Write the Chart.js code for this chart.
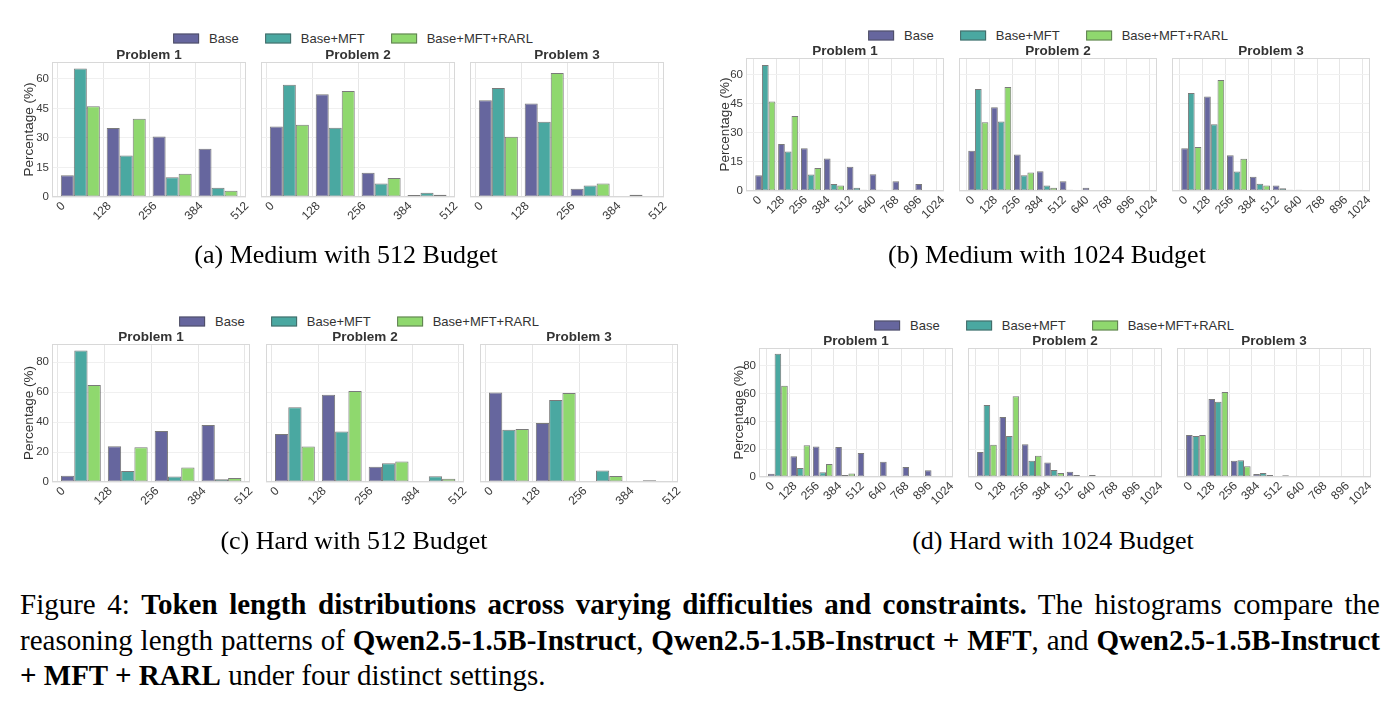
<!DOCTYPE html>
<html>
<head>
<meta charset="utf-8">
<script src="https://cdn.jsdelivr.net/npm/chart.js@4.4.1/dist/chart.umd.min.js"></script>
<style>
  body { margin: 0; width: 1400px; height: 708px; background: #fff; position: relative; overflow: hidden;
         font-family: "Liberation Sans", Arial, sans-serif; }
  .panel { position: absolute; }
  .legend { position: absolute; display: flex; align-items: center; transform: translate(-50%, -50%);
            font-size: 13px; color: #333; white-space: nowrap; }
  .legend .sw { width: 24px; height: 8px; border: 1px solid rgba(60, 60, 60, 0.6); margin-right: 10px; }
  .legend .it { display: flex; align-items: center; margin-right: 26px; }
  .legend .it:last-child { margin-right: 0; }
  .sub { position: absolute; transform: translate(-50%, -50%); white-space: nowrap;
         font-family: "Liberation Serif", "Times New Roman", serif; font-size: 26px; color: #000; }
  .cap { position: absolute; left: 20px; top: 587px; width: 1360px;
         font-family: "Liberation Serif", "Times New Roman", serif; font-size: 29px; line-height: 35.5px; color: #000; }
  .cap .just { text-align: justify; text-align-last: justify; }
</style>
</head>
<body>
<script>
const SERIES = ["Base", "Base+MFT", "Base+MFT+RARL"];
const PROBLEMS = ["Problem 1", "Problem 2", "Problem 3"];
const X_TICKS_512 = [0, 128, 256, 384, 512];
const X_TICKS_1024 = [0, 128, 256, 384, 512, 640, 768, 896, 1024];
const Y_TICKS_MEDIUM = [0, 15, 30, 45, 60];
const Y_TICKS_HARD = [0, 20, 40, 60, 80];

// (a) Medium, 512 budget: one row per problem, one value per 128-token bin
const MED512_BASE = [[11.0, 35.0, 30.8, 24.5], [35.8, 52.2, 12.3, 1.0], [49.2, 47.5, 4.2, 0.0]];
const MED512_MFT  = [[65.3, 21.1, 10.0, 4.7], [57.0, 35.2, 6.8, 2.2], [55.4, 38.2, 5.9, 1.2]];
const MED512_RARL = [[46.1, 39.7, 11.8, 3.2], [36.7, 53.9, 9.6, 1.2], [30.6, 63.0, 6.9, 0.3]];

// (b) Medium, 1024 budget
const MED1024_BASE = [[8.1, 24.2, 22.0, 16.8, 12.5, 8.6, 5.0, 3.6],
                      [20.8, 43.2, 18.8, 10.2, 5.0, 1.7, 0.5, 0.1],
                      [22.1, 48.8, 18.5, 7.4, 2.8, 0.7, 0.2, 0.1]];
const MED1024_MFT  = [[65.0, 20.4, 8.5, 3.6, 1.7, 0.7, 0.2, 0.1],
                      [52.6, 35.8, 8.1, 2.8, 0.7, 0.2, 0.1, 0.0],
                      [50.5, 34.4, 10.0, 3.8, 1.4, 0.5, 0.2, 0.1]];
const MED1024_RARL = [[46.2, 38.7, 11.8, 2.9, 0.7, 0.2, 0.0, 0.0],
                      [35.4, 53.6, 9.5, 1.7, 0.2, 0.1, 0.0, 0.0],
                      [22.7, 57.2, 16.6, 2.9, 0.7, 0.2, 0.1, 0.0]];

// (c) Hard, 512 budget
const HARD512_BASE = [[4.2, 23.9, 34.0, 38.0], [32.0, 58.1, 10.1, 0.2], [59.7, 39.3, 0.2, 0.0]];
const HARD512_MFT  = [[87.6, 7.4, 3.6, 1.8], [49.8, 33.7, 12.5, 3.8], [34.9, 54.7, 7.6, 1.1]];
const HARD512_RARL = [[64.6, 23.2, 9.6, 2.7], [23.7, 60.6, 13.6, 2.2], [35.3, 59.4, 4.0, 0.0]];

// (d) Hard, 1024 budget
const HARD1024_BASE = [[2.4, 14.9, 22.0, 21.6, 17.2, 11.0, 7.2, 4.8],
                       [18.0, 43.1, 23.5, 10.5, 3.8, 1.4, 0.5, 0.2],
                       [30.2, 56.0, 11.7, 2.2, 0.5, 0.3, 0.1, 0.0]];
const HARD1024_MFT  = [[88.6, 6.5, 3.4, 1.4, 0.7, 0.3, 0.1, 0.0],
                       [51.7, 29.5, 11.7, 5.0, 1.4, 0.7, 0.3, 0.1],
                       [29.5, 54.1, 12.0, 2.9, 1.2, 0.5, 0.2, 0.1]];
const HARD1024_RARL = [[65.6, 22.8, 9.3, 2.6, 0.5, 0.2, 0.1, 0.0],
                       [23.2, 58.0, 15.3, 2.9, 0.5, 0.2, 0.5, 0.2],
                       [30.2, 61.1, 7.7, 1.4, 0.5, 0.2, 0.5, 0.2]];

const COLORS = ["#66669e", "#4aa8a1", "#8fd86e"];
const EDGE = "rgba(50, 50, 50, 0.65)";
const BIN = 128;

// page geometry of each sub-figure (plot frames, legend, caption)
const FIGS = [
  { caption: "(a) Medium with 512 Budget", capX: 346, capY: 255, legX: 353, legY: 38,
    series: [MED512_BASE, MED512_MFT, MED512_RARL], xTicks: X_TICKS_512, yTicks: Y_TICKS_MEDIUM,
    xMin: -15, xMax: 526, yMax: 68.6, group: 0.85,
    lefts: [52, 261, 470], width: 194, top: 62, bottom: 197, ylabX: 29.5 },
  { caption: "(b) Medium with 1024 Budget", capX: 1047, capY: 255, legX: 1048, legY: 35,
    series: [MED1024_BASE, MED1024_MFT, MED1024_RARL], xTicks: X_TICKS_1024, yTicks: Y_TICKS_MEDIUM,
    xMin: -44, xMax: 1064, yMax: 68.6, group: 0.88,
    lefts: [746, 959, 1172], width: 198, top: 58, bottom: 191, ylabX: 725 },
  { caption: "(c) Hard with 512 Budget", capX: 354, capY: 541, legX: 359, legY: 321,
    series: [HARD512_BASE, HARD512_MFT, HARD512_RARL], xTicks: X_TICKS_512, yTicks: Y_TICKS_HARD,
    xMin: -15, xMax: 526, yMax: 92.0, group: 0.85,
    lefts: [52, 266, 480], width: 198, top: 344, bottom: 482, ylabX: 29 },
  { caption: "(d) Hard with 1024 Budget", capX: 1053, capY: 541, legX: 1054, legY: 325,
    series: [HARD1024_BASE, HARD1024_MFT, HARD1024_RARL], xTicks: X_TICKS_1024, yTicks: Y_TICKS_HARD,
    xMin: -44, xMax: 1064, yMax: 92.7, group: 0.88,
    lefts: [759, 968, 1177], width: 194, top: 348, bottom: 477, ylabX: 739 },
];

const TITLE_H = 14;
const PAD_B = 44;
const PAD_R = 16;

const framePlugin = {
  id: "frame",
  afterDraw(chart) {
    const a = chart.chartArea, c = chart.ctx;
    c.save();
    c.strokeStyle = "#d8d8d8";
    c.lineWidth = 1;
    c.strokeRect(Math.round(a.left) + 0.5, Math.round(a.top) + 0.5,
                 Math.round(a.right - a.left) - 1, Math.round(a.bottom - a.top) - 1);
    c.restore();
  }
};

function addPanel(fig, k) {
  const first = k === 0;
  const L = fig.lefts[k];
  const padL = first ? Math.round(L - (fig.ylabX - 8)) : 16;
  const box = document.createElement("div");
  box.className = "panel";
  box.style.left = (L - padL) + "px";
  box.style.top = (fig.top - TITLE_H) + "px";
  box.style.width = (fig.width + padL + PAD_R) + "px";
  box.style.height = (fig.bottom - fig.top + TITLE_H + PAD_B) + "px";
  const cv = document.createElement("canvas");
  box.appendChild(cv);
  document.body.appendChild(box);

  const bins = fig.xTicks.slice(0, -1);
  const datasets = SERIES.map((name, s) => ({
    label: name,
    data: fig.series[s][k].map((v, i) => ({ x: bins[i] + BIN / 2, y: v })),
    backgroundColor: COLORS[s],
    borderColor: EDGE,
    borderWidth: 1,
    borderSkipped: false,
    categoryPercentage: fig.group,
    barPercentage: 1,
  }));

  new Chart(cv, {
    type: "bar",
    data: { datasets },
    options: {
      responsive: true,
      maintainAspectRatio: false,
      animation: false,
      layout: { padding: { left: first ? 0 : padL, right: PAD_R, top: 0, bottom: 0 } },
      plugins: {
        legend: { display: false },
        tooltip: { enabled: false },
        title: { display: true, fullSize: false, text: PROBLEMS[k], color: "#333", padding: 0,
                 font: { family: "Liberation Sans", size: 13.5, weight: "bold", lineHeight: "14px" } },
      },
      scales: {
        x: {
          type: "linear", min: fig.xMin, max: fig.xMax, offset: false,
          afterBuildTicks: (ax) => { ax.ticks = fig.xTicks.map((v) => ({ value: v })); },
          afterFit: (ax) => { ax.height = PAD_B; },
          ticks: { autoSkip: false, minRotation: 45, maxRotation: 45, labelOffset: 6, padding: 2,
                   color: "#3a3a3a", font: { family: "Liberation Sans", size: 12 },
                   callback: (v) => String(v) },
          grid: { color: "#e6e6e6", drawTicks: false, offset: false },
          border: { display: false },
        },
        y: {
          min: 0, max: fig.yMax,
          afterBuildTicks: (ax) => { ax.ticks = fig.yTicks.map((v) => ({ value: v })); },
          afterFit: (ax) => { ax.width = first ? padL : 0; },
          ticks: { display: first, padding: 3, color: "#3a3a3a",
                   font: { family: "Liberation Sans", size: 11.5 }, callback: (v) => String(v) },
          grid: { color: "#f0f0f0", drawTicks: false },
          border: { display: false },
          title: { display: first, text: "Percentage (%)", color: "#333", padding: 0,
                   font: { family: "Liberation Sans", size: 13.5, lineHeight: "16px" } },
        },
      },
    },
    plugins: [framePlugin],
  });
}

function addLegend(fig) {
  const lg = document.createElement("div");
  lg.className = "legend";
  lg.style.left = fig.legX + "px";
  lg.style.top = fig.legY + "px";
  SERIES.forEach((name, s) => {
    const it = document.createElement("div");
    it.className = "it";
    const sw = document.createElement("span");
    sw.className = "sw";
    sw.style.background = COLORS[s];
    const tx = document.createElement("span");
    tx.textContent = name;
    it.appendChild(sw);
    it.appendChild(tx);
    lg.appendChild(it);
  });
  document.body.appendChild(lg);
}

FIGS.forEach((fig) => {
  addLegend(fig);
  for (let k = 0; k < 3; k++) addPanel(fig, k);
  const cap = document.createElement("div");
  cap.className = "sub";
  cap.style.left = fig.capX + "px";
  cap.style.top = fig.capY + "px";
  cap.textContent = fig.caption;
  document.body.appendChild(cap);
});
</script>
<div class="cap">
  <div class="just">Figure 4: <b>Token length distributions across varying difficulties and constraints.</b> The histograms compare the</div>
  <div class="just">reasoning length patterns of <b>Qwen2.5-1.5B-Instruct</b>, <b>Qwen2.5-1.5B-Instruct + MFT</b>, and <b>Qwen2.5-1.5B-Instruct</b></div>
  <div><b>+ MFT + RARL</b> under four distinct settings.</div>
</div>
</body>
</html>
